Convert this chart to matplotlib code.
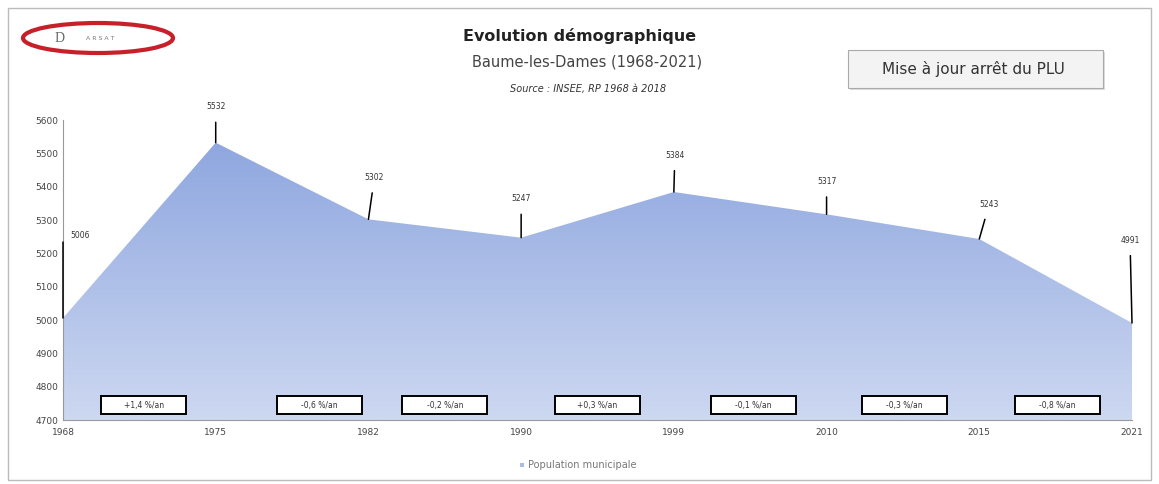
import matplotlib
matplotlib.use('Agg')
import matplotlib.pyplot as plt
import numpy as np
from matplotlib.patches import Rectangle, Ellipse
from matplotlib.colors import LinearSegmentedColormap

# Data
years = ['1968', '1975', '1982', '1990', '1999', '2010', '2015', '2021']
population = [5006, 5532, 5302, 5247, 5384, 5317, 5243, 4991]
rates = ['+1,4 %/an', '-0,6 %/an', '-0,2 %/an', '+0,3 %/an',
         '-0,1 %/an', '-0,3 %/an', '-0,8 %/an']
y_ticks = [4700, 4800, 4900, 5000, 5100, 5200, 5300, 5400, 5500, 5600]

fig = plt.figure(figsize=(11.59, 4.84), dpi=100)
ax = fig.add_axes([63 / 1159, 1 - 420 / 484, (1132 - 63) / 1159, 300 / 484])

x = np.arange(len(years))
ax.set_xlim(0, len(years) - 1)
ax.set_ylim(4700, 5600)

# Area with vertical gradient, clipped to the filled polygon
poly = ax.fill_between(x, population, 4700, facecolor='none', edgecolor='none')
cmap = LinearSegmentedColormap.from_list('blues', ['#cdd8f1', '#8aa3de'])
grad = np.linspace(0, 1, 256).reshape(-1, 1)
img = ax.imshow(grad, cmap=cmap, aspect='auto', origin='lower',
                extent=[0, len(years) - 1, 4700, 5600], zorder=1)
img.set_clip_path(poly.get_paths()[0], transform=ax.transData)

# Value labels with leader lines (offsets in pixels)
offsets = [(17, 83), (0, 36), (6, 42), (0, 39), (1, 37), (0, 33), (10, 35), (-2, 83)]
for i, (v, (dx, dy)) in enumerate(zip(population, offsets)):
    conn = 'angle,angleA=0,angleB=90,rad=0' if i == 0 else 'arc3'
    ax.annotate(str(v), xy=(x[i], v), xytext=(dx, dy), textcoords='offset pixels',
                ha='center', va='center', fontsize=5.5, color='#333333',
                arrowprops=dict(arrowstyle='-', color='black', lw=1.1,
                                shrinkA=6, shrinkB=0, connectionstyle=conn),
                zorder=5)

# Rate boxes between census years
box_x = [0.53, 1.68, 2.5, 3.5, 4.52, 5.51, 6.51]
for bx, r in zip(box_x, rates):
    ax.add_patch(Rectangle((bx - 0.278, 4718), 0.556, 54, facecolor='white',
                           edgecolor='black', lw=1.4, zorder=4))
    ax.text(bx, 4745, r, ha='center', va='center', fontsize=5.5,
            color='#333333', zorder=5)

ax.set_xticks(x)
ax.set_xticklabels(years)
ax.set_yticks(y_ticks)
ax.tick_params(axis='both', length=0, labelsize=6.5, colors='#444444')
ax.tick_params(axis='x', pad=6)
for s in ['top', 'right']:
    ax.spines[s].set_visible(False)
for s in ['left', 'bottom']:
    ax.spines[s].set_color('#999999')
    ax.spines[s].set_linewidth(0.8)
ax.set_zorder(2)

# Titles
fig.text(0.5, 1 - 36 / 484, 'Evolution démographique', ha='center', va='center',
         fontsize=11.5, fontweight='bold', color='#222222')
fig.text(587 / 1159, 1 - 62 / 484, 'Baume-les-Dames (1968-2021)', ha='center', va='center',
         fontsize=10.5, color='#444444')
fig.text(588 / 1159, 1 - 89 / 484, 'Source : INSEE, RP 1968 à 2018', ha='center', va='center',
         fontsize=7, style='italic', color='#333333')

# Button
fig.patches.append(Rectangle((850 / 1159, 1 - 90 / 484), 255 / 1159, 38 / 484,
                             transform=fig.transFigure, facecolor='#dddddd',
                             edgecolor='none', zorder=0))
fig.patches.append(Rectangle((848 / 1159, 1 - 88 / 484), 255 / 1159, 38 / 484,
                             transform=fig.transFigure, facecolor='#f3f3f3',
                             edgecolor='#aaaaaa', lw=0.8, zorder=1))
fig.text(973 / 1159, 1 - 69 / 484, 'Mise à jour arrêt du PLU', ha='center', va='center',
         fontsize=11, color='#333333')

# Logo
fig.patches.append(Ellipse((98 / 1159, 1 - 38 / 484), 150 / 1159, 30 / 484,
                           transform=fig.transFigure, facecolor='none',
                           edgecolor='#c8202a', lw=3))
fig.text(60 / 1159, 1 - 38 / 484, 'D', ha='center', va='center', fontsize=10,
         color='#666666', family='Liberation Serif')
fig.text(100 / 1159, 1 - 38 / 484, 'A R S A T', ha='center', va='center', fontsize=4.5,
         color='#777777')

# Legend
fig.patches.append(Rectangle((520 / 1159, 1 - 467 / 484), 4 / 1159, 4 / 484,
                             transform=fig.transFigure, facecolor='#aabbe5',
                             edgecolor='none'))
fig.text(528 / 1159, 1 - 465 / 484, 'Population municipale', ha='left', va='center',
         fontsize=7, color='#777777')

# Outer frame
fig.patches.append(Rectangle((8 / 1159, 4 / 484), 1143 / 1159, 472 / 484,
                             transform=fig.transFigure, facecolor='none',
                             edgecolor='#bbbbbb', lw=1))

fig.savefig('out.png', dpi=100)
